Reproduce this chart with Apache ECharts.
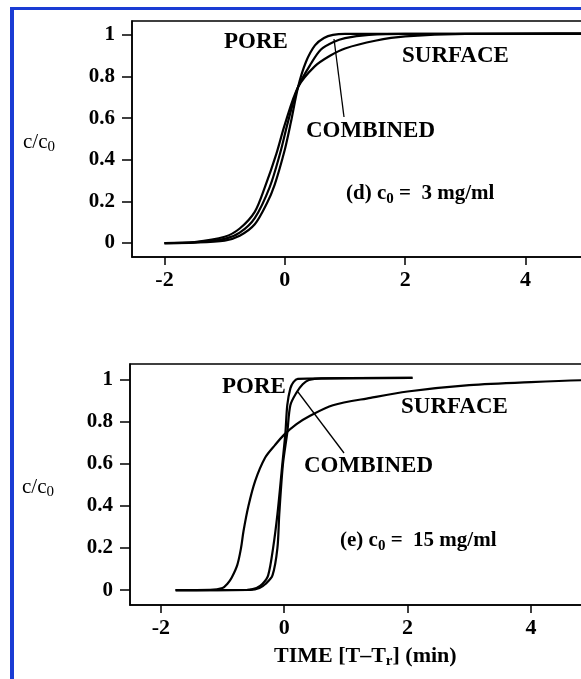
<!DOCTYPE html>
<html>
<head>
<meta charset="utf-8">
<script src="https://cdn.jsdelivr.net/npm/echarts@6/dist/echarts.min.js"></script>
<style>
html, body { margin: 0; padding: 0; background: #fff; }
#chart { width: 581px; height: 679px; }
</style>
</head>
<body>
<div id="chart"></div>
<script>
// tick labels
var xTicks = [-2, 0, 2, 4, 6];
var yTicks = [0, 0.2, 0.4, 0.6, 0.8, 1];

// panel (d) c0 = 3 mg/ml  -- [time, c/c0]
var dPore = [[-2, 0], [-1.5, 0.002], [-1.0, 0.012], [-0.75, 0.035], [-0.5, 0.09], [-0.3, 0.19], [-0.17, 0.28],
    [0, 0.45], [0.1, 0.58], [0.22, 0.75], [0.35, 0.87], [0.5, 0.95], [0.65, 0.985], [0.8, 1.0], [1.0, 1.005], [6.5, 1.005]];
var dCombined = [[-2, 0], [-1.5, 0.003], [-1.0, 0.02], [-0.75, 0.05], [-0.5, 0.12], [-0.25, 0.27], [-0.08, 0.43],
    [0.05, 0.58], [0.22, 0.75], [0.44, 0.865], [0.6, 0.93], [0.8, 0.965], [1.0, 0.985], [1.4, 1.0], [2.0, 1.005], [6.5, 1.005]];
var dSurface = [[-2, 0], [-1.5, 0.005], [-1.0, 0.03], [-0.75, 0.07], [-0.5, 0.15], [-0.33, 0.27], [-0.14, 0.43],
    [0, 0.57], [0.22, 0.75], [0.5, 0.85], [0.75, 0.9], [1.0, 0.935], [1.5, 0.972], [2.0, 0.993], [3.0, 1.005], [6.5, 1.008]];

// panel (e) c0 = 15 mg/ml
var ePore = [[-1.76, 0], [-0.6, 0.001], [-0.45, 0.01], [-0.35, 0.03], [-0.26, 0.07], [-0.18, 0.2], [-0.11, 0.36],
    [-0.03, 0.6], [0.02, 0.75], [0.05, 0.88], [0.1, 0.96], [0.15, 0.99], [0.22, 1.005], [2.08, 1.01]];
var eCombined = [[-1.76, 0], [-0.55, 0.001], [-0.4, 0.01], [-0.3, 0.03], [-0.19, 0.07], [-0.11, 0.2], [-0.08, 0.36],
    [-0.02, 0.6], [0.05, 0.75], [0.1, 0.88], [0.2, 0.94], [0.3, 0.98], [0.4, 1.0], [0.6, 1.008], [2.08, 1.01]];
var eSurface = [[-1.76, 0], [-1.2, 0.001], [-1.0, 0.01], [-0.92, 0.03], [-0.85, 0.06], [-0.76, 0.12], [-0.7, 0.2],
    [-0.66, 0.28], [-0.58, 0.4], [-0.47, 0.52], [-0.31, 0.63], [-0.15, 0.69], [0, 0.74], [0.2, 0.79], [0.42, 0.83],
    [0.79, 0.88], [1.4, 0.915], [2.0, 0.945], [3.0, 0.975], [4.0, 0.99], [5.0, 1.0], [6.5, 1.003]];

var sFont = 'Liberation Serif';

function MakeXAxis(iGrid, fMin, fMax) {
    return {
        type: 'value', gridIndex: iGrid, min: fMin, max: fMax,
        axisLine: {show: true, onZero: false, lineStyle: {color: '#000', width: 1.5}},
        axisTick: {show: true, inside: false, length: 8, customValues: xTicks, lineStyle: {color: '#000', width: 1.5}},
        axisLabel: {customValues: xTicks, margin: 12, fontFamily: sFont, fontWeight: 'bold', fontSize: 22, color: '#000'},
        splitLine: {show: false}
    };
}

function MakeYAxis(iGrid, fMin, fMax) {
    return {
        type: 'value', gridIndex: iGrid, min: fMin, max: fMax,
        axisLine: {show: true, onZero: false, lineStyle: {color: '#000', width: 1.5}},
        axisTick: {show: true, inside: false, length: 10, customValues: yTicks, lineStyle: {color: '#000', width: 1.5}},
        axisLabel: {
            customValues: yTicks, margin: 17, fontFamily: sFont, fontWeight: 'bold', fontSize: 21, color: '#000',
            formatter: function (v) {
                if (v === 0 || v === 1) {
                    return String(v);
                }
                return v.toFixed(1);
            }
        },
        splitLine: {show: false}
    };
}

function MakeLine(jData, iAxis) {
    return {
        type: 'line', data: jData, xAxisIndex: iAxis, yAxisIndex: iAxis,
        showSymbol: false, smooth: 0.3, silent: true,
        lineStyle: {color: '#000', width: 2.2}
    };
}

function MakeText(x, y, sText, iSize) {
    return {
        type: 'text', x: x, y: y, silent: true,
        style: {
            text: sText, fill: '#000', font: 'bold ' + iSize + 'px "' + sFont + '"',
            textVerticalAlign: 'middle',
            rich: {
                b: {fontFamily: sFont, fontWeight: 'bold', fontSize: iSize, fill: '#000'},
                s: {fontFamily: sFont, fontWeight: 'bold', fontSize: Math.round(iSize * 0.7), fill: '#000', padding: [10, 0, 0, 0]},
                n: {fontFamily: sFont, fontSize: iSize, fill: '#000'},
                ns: {fontFamily: sFont, fontSize: Math.round(iSize * 0.7), fill: '#000', padding: [10, 0, 0, 0]}
            }
        }
    };
}

function MakeSeg(x1, y1, x2, y2, w, sColor) {
    return {
        type: 'line', silent: true,
        shape: {x1: x1, y1: y1, x2: x2, y2: y2},
        style: {stroke: sColor, lineWidth: w}
    };
}

var jOption = {
    animation: false,
    backgroundColor: '#fff',
    grid: [
        {left: 132, top: 21, width: 544, height: 236, show: true, borderColor: '#000', borderWidth: 1.5,
            outerBoundsMode: 'none', containLabel: false},
        {left: 130, top: 364, width: 544, height: 241, show: true, borderColor: '#000', borderWidth: 1.5,
            outerBoundsMode: 'none', containLabel: false}
    ],
    xAxis: [MakeXAxis(0, -2.54, 6.5), MakeXAxis(1, -2.5, 6.32)],
    yAxis: [MakeYAxis(0, -0.067, 1.067), MakeYAxis(1, -0.071, 1.076)],
    series: [
        MakeLine(dPore, 0), MakeLine(dCombined, 0), MakeLine(dSurface, 0),
        MakeLine(ePore, 1), MakeLine(eCombined, 1), MakeLine(eSurface, 1)
    ],
    graphic: [
        // blue frame
        MakeSeg(10, 8.5, 581, 8.5, 3, '#1a3cd4'),
        MakeSeg(12, 7, 12, 679, 4, '#1a3cd4'),
        // panel (d)
        MakeText(23, 142, '{n|c/c}{ns|0}', 21),
        MakeText(224, 42, 'PORE', 23),
        MakeText(402, 56, 'SURFACE', 23),
        MakeText(306, 131, 'COMBINED', 23),
        MakeText(346, 194, '{b|(d) c}{s|0}{b| =  3 mg/ml}', 21),
        MakeSeg(334, 39, 344, 117, 1.3, '#000'),
        // panel (e)
        MakeText(22, 487, '{n|c/c}{ns|0}', 21),
        MakeText(222, 387, 'PORE', 23),
        MakeText(401, 407, 'SURFACE', 23),
        MakeText(304, 466, 'COMBINED', 23),
        MakeText(340, 541, '{b|(e) c}{s|0}{b| =  15 mg/ml}', 21),
        MakeSeg(298, 392, 344, 453, 1.3, '#000'),
        MakeText(274, 656, '{b|TIME [T\u2013T}{s|r}{b|] (min)}', 22)
    ]
};

var myChart = echarts.init(document.getElementById('chart'), null, {renderer: 'canvas'});
myChart.setOption(jOption);
</script>
</body>
</html>
